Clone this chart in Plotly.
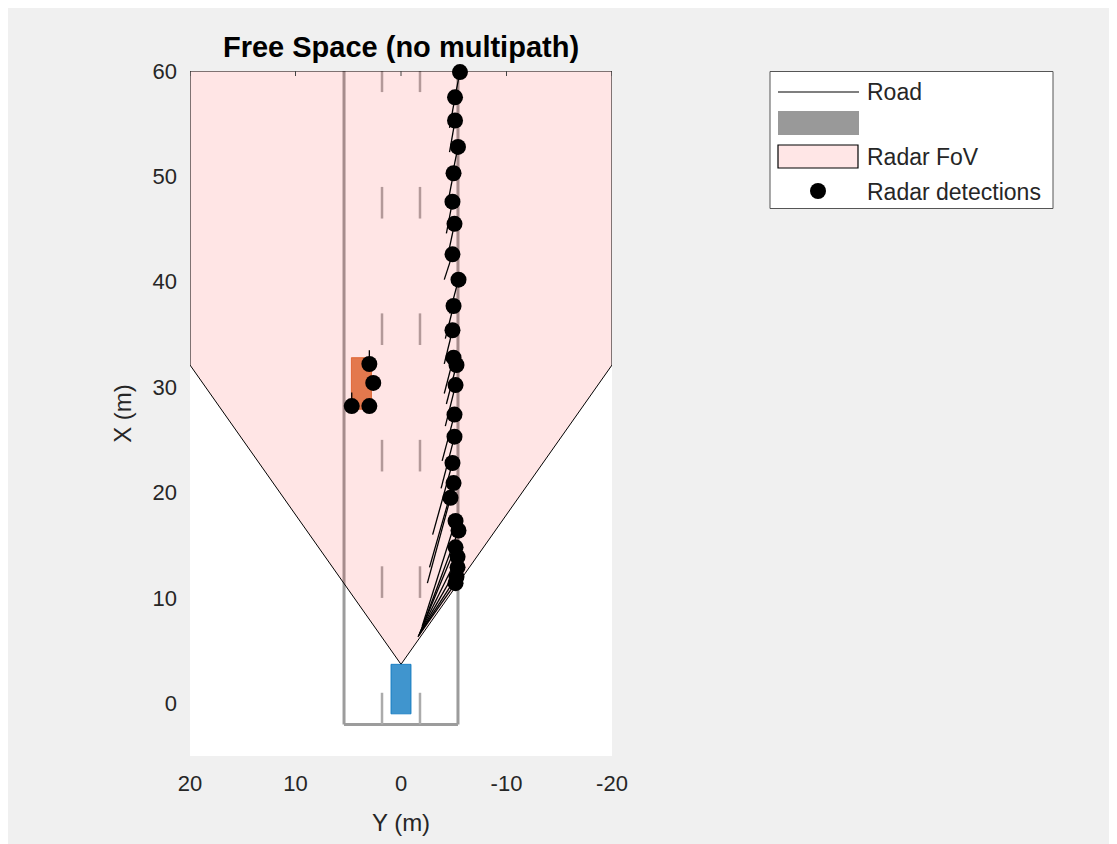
import plotly.graph_objects as go

# ---------------- data (Y = lateral, X = longitudinal, metres) ----------------
# barrier (guard-rail) detections
det_y = [-5.59, -5.12, -5.12, -5.40, -4.98, -4.88, -5.07, -4.88, -5.45, -4.98,
         -4.88, -4.98, -5.26, -5.17, -5.07, -5.07, -4.88, -4.98, -4.69, -5.17,
         -5.45, -5.17, -5.36, -5.36, -5.26, -5.17]
det_x = [59.9, 57.5, 55.3, 52.8, 50.3, 47.6, 45.5, 42.6, 40.2, 37.7,
         35.4, 32.8, 32.1, 30.2, 27.4, 25.3, 22.8, 20.9, 19.5, 17.3,
         16.4, 14.8, 13.9, 12.9, 12.0, 11.4]
# end points of the velocity lines drawn from each barrier detection
vel_end_y = [-5.0, -4.6, -4.6, -4.8, -4.4, -4.3, -4.4, -4.1, -4.6, -4.2,
             -4.1, -4.1, -4.3, -4.2, -3.9, -3.8, -3.0, -2.7, -2.5, -2.0,
             -1.9, -1.8, -1.75, -1.7, -1.65, -1.6]
vel_end_x = [57.0, 54.6, 52.3, 49.8, 47.3, 44.6, 42.3, 40.2, 37.0, 34.6,
             32.2, 29.4, 28.4, 26.3, 23.0, 20.4, 16.0, 12.9, 11.4, 7.3,
             6.9, 6.7, 6.6, 6.5, 6.4, 6.3]

# target vehicle detections
tgt_det_y = [3.0, 2.63, 4.67, 3.0]
tgt_det_x = [32.2, 30.4, 28.2, 28.2]
tgt_vel_end_y = [3.0, 2.63, 4.67, 3.0]
tgt_vel_end_x = [33.5, 30.4, 29.5, 28.2]

# road
road_edge_y = [5.4, -5.4]
road_start_x = -2.0
road_end_x = 70.0
lane_mark_y = [1.8, -1.8]
dash_start_x = [-2, 10, 22, 34, 46, 58]
dash_len = 3.0

# radar field of view polygon (clipped to the axes)
fov_y = [0, 20, 20, -20, -20, 0]
fov_x = [3.7, 32.1, 60, 60, 32.1, 3.7]

# vehicles: [Y min, Y max], [X min, X max]
ego_y = [-0.95, 0.95]
ego_x = [-1.0, 3.7]
tgt_y = [2.8, 4.7]
tgt_x = [27.9, 32.8]

x_ticks = [20, 10, 0, -10, -20]
y_ticks = [0, 10, 20, 30, 40, 50, 60]

legend_labels = ["Road", "", "Radar FoV", "Radar detections"]

FONT = "Liberation Sans, Arial, Helvetica, sans-serif"
TXT = "#262626"
FOV_FILL = "rgba(255,0,0,0.1)"

fig = go.Figure()

# road edges
ry, rx = [], []
for yy in road_edge_y:
    ry += [yy, yy, None]
    rx += [road_end_x, road_start_x, None]
ry += [road_edge_y[0], road_edge_y[1], None]
rx += [road_start_x, road_start_x, None]
fig.add_trace(go.Scatter(x=ry, y=rx, mode="lines",
                         line=dict(color="#9c9c9c", width=3),
                         showlegend=False, hoverinfo="skip"))
# lane markings
ly, lx = [], []
for yy in lane_mark_y:
    for s in dash_start_x:
        ly += [yy, yy, None]
        lx += [s, s + dash_len, None]
fig.add_trace(go.Scatter(x=ly, y=lx, mode="lines",
                         line=dict(color="#ababab", width=2.5),
                         showlegend=False, hoverinfo="skip"))

# FoV
fig.add_trace(go.Scatter(x=fov_y, y=fov_x, mode="lines", fill="toself",
                         fillcolor=FOV_FILL, line=dict(color="black", width=1),
                         showlegend=False, hoverinfo="skip"))

# vehicles
def rect(yr, xr):
    return ([yr[0], yr[1], yr[1], yr[0], yr[0]], [xr[0], xr[0], xr[1], xr[1], xr[0]])

ey, ex = rect(ego_y, ego_x)
fig.add_trace(go.Scatter(x=ey, y=ex, mode="lines", fill="toself",
                         fillcolor="rgba(0,114,189,0.75)",
                         line=dict(color="rgba(0,114,189,0.75)", width=1),
                         showlegend=False, hoverinfo="skip"))
ty, tx = rect(tgt_y, tgt_x)
fig.add_trace(go.Scatter(x=ty, y=tx, mode="lines", fill="toself",
                         fillcolor="rgba(217,83,25,0.75)",
                         line=dict(color="rgba(217,83,25,0.75)", width=1),
                         showlegend=False, hoverinfo="skip"))

# velocity lines
vy, vx = [], []
for a, b, c, d in zip(det_y, det_x, vel_end_y, vel_end_x):
    vy += [a, c, None]
    vx += [b, d, None]
for a, b, c, d in zip(tgt_det_y, tgt_det_x, tgt_vel_end_y, tgt_vel_end_x):
    vy += [a, c, None]
    vx += [b, d, None]
fig.add_trace(go.Scatter(x=vy, y=vx, mode="lines",
                         line=dict(color="black", width=1.3),
                         showlegend=False, hoverinfo="skip"))

# detections
fig.add_trace(go.Scatter(x=det_y + tgt_det_y, y=det_x + tgt_det_x, mode="markers",
                         marker=dict(color="black", size=16, line=dict(width=0)),
                         name="Radar detections", cliponaxis=False,
                         showlegend=False))

# ---------------- manual legend (MATLAB-style) ----------------
PL, PR, PT, PB = 190, 612, 71, 756   # plot-area pixel bounds in the window
def px(x):
    return (x - PL) / (PR - PL)
def py(y):
    return (PB - y) / (PB - PT)

shapes = [
    dict(type="rect", xref="paper", yref="paper", x0=px(770), x1=px(1053), y0=py(71.5), y1=py(208.5),
         fillcolor="white", line=dict(color="#555555", width=1), layer="above"),
    dict(type="line", xref="paper", yref="paper", x0=px(778), x1=px(859), y0=py(92), y1=py(92),
         line=dict(color="black", width=1.2), layer="above"),
    dict(type="rect", xref="paper", yref="paper", x0=px(778), x1=px(859), y0=py(111), y1=py(135),
         fillcolor="#999999", line=dict(width=0), layer="above"),
    dict(type="rect", xref="paper", yref="paper", x0=px(778), x1=px(858), y0=py(145), y1=py(168),
         fillcolor="#ffe6e6", line=dict(color="black", width=1.2), layer="above"),
    dict(type="circle", xref="paper", yref="paper", x0=px(810), x1=px(826), y0=py(183), y1=py(199),
         fillcolor="black", line=dict(width=0), layer="above"),
]
# small inward tick marks along the top edge
for t in x_ticks:
    shapes.append(dict(type="line", xref="x", yref="paper", x0=t, x1=t, y0=1.0, y1=1.0 - 5 / 685,
                       line=dict(color="#444444", width=1), layer="above"))

label_y = [92, 123, 157, 192]
annotations = []
for lab, yy in zip(legend_labels, label_y):
    if lab:
        annotations.append(dict(text=lab, xref="paper", yref="paper", x=px(865), y=py(yy),
                                xanchor="left", yanchor="middle", showarrow=False,
                                font=dict(size=23, color=TXT, family=FONT)))

fig.update_layout(
    width=1117, height=844,
    margin=dict(l=182, r=513, t=63, b=96, pad=0),
    paper_bgcolor="#f0f0f0", plot_bgcolor="white",
    font=dict(family=FONT, color=TXT, size=22),
    title=dict(text="<b>Free Space (no multipath)</b>", x=393 / 1117, xanchor="center",
               y=1 - 39 / 844, yanchor="middle", xref="container", yref="container",
               font=dict(size=29, color="black", family=FONT)),
    xaxis=dict(range=[20, -20], tickvals=x_ticks, ticktext=[str(v) for v in x_ticks],
               showgrid=False, zeroline=False, showline=False, ticks="",
               ticklabelstandoff=12, tickfont=dict(size=22, color=TXT),
               title=dict(text="Y (m)", font=dict(size=24, color=TXT), standoff=19)),
    yaxis=dict(range=[-5, 60], tickvals=y_ticks, ticktext=[str(v) for v in y_ticks],
               showgrid=False, zeroline=False, showline=False, ticks="",
               ticklabelstandoff=12, tickfont=dict(size=22, color=TXT),
               title=dict(text="X (m)", font=dict(size=24, color=TXT), standoff=14)),
    showlegend=False,
    shapes=shapes,
    annotations=annotations,
)

fig.write_html("out.html")
